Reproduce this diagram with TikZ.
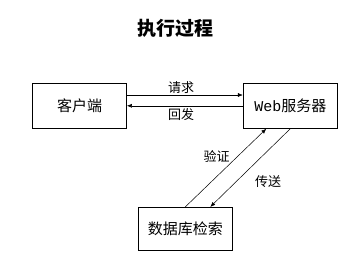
\documentclass[tikz,border=0pt]{standalone}
\usepackage{fontspec}
\setmainfont{Noto Sans CJK SC}
\newfontfamily\webmono{Liberation Mono}
\usetikzlibrary{arrows.meta}
\begin{document}
\begin{tikzpicture}[x=1pt,y=-1pt,
  box/.style={draw=black,line width=0.8pt,minimum width=94pt,inner sep=0pt,font=\fontsize{15}{17}\selectfont},
  conn/.style={line width=0.5pt,-{Latex[length=5pt,width=4pt]}},
  lbl/.style={font=\fontsize{13}{15}\selectfont,inner sep=0pt}]
\useasboundingbox (0,0) rectangle (359,258);
\node[font=\fontsize{19}{21}\selectfont\bfseries] (title) at (175,28) {执行过程};
\node[box,minimum height=45pt] (client) at (79.5,105.8) {客户端};
\node[box,minimum height=45pt] (web) at (290.3,105.8) {{\webmono Web}服务器};
\node[box,minimum height=43.4pt] (db) at (185.3,229) {数据库检索};
\draw[conn] ([yshift=10.8pt]client.east) -- ([yshift=10.8pt]web.west);
\draw[conn] (web.west) -- (client.east);
\node[lbl] (req) at (181,88) {请求};
\node[lbl] (ret) at (181,115) {回发};
\draw[conn] (db.north) -- ([xshift=23.4pt]web.south west);
\draw[conn] (web.south) -- ([xshift=25pt]db.north);
\node[lbl] (ver) at (216.7,156.7) {验证};
\node[lbl] (send) at (268,181.7) {传送};
\end{tikzpicture}
\end{document}
